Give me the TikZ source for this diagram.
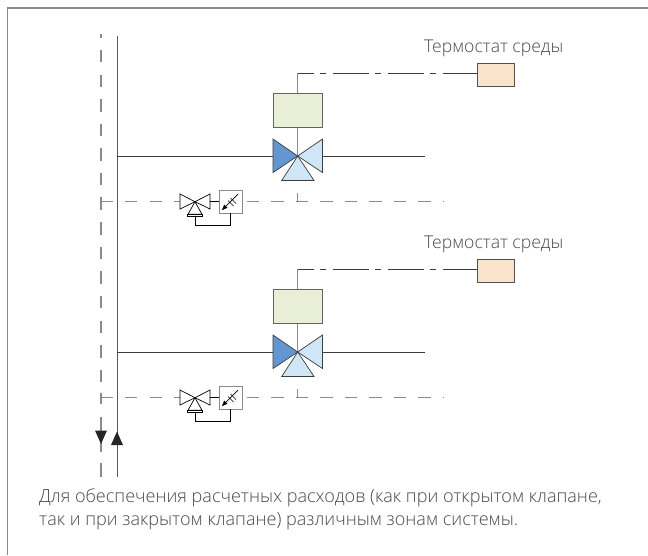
\documentclass[tikz,border=0pt]{standalone}
\usepackage{fontspec}
\setmainfont{Open Sans Light}[]
\definecolor{lineG}{HTML}{3C3C3C}
\definecolor{frameG}{HTML}{8A8A8A}
\definecolor{txtG}{HTML}{4A4A4A}
\definecolor{blueD}{HTML}{6496D2}
\definecolor{blueL}{HTML}{CFE6F6}
\definecolor{actG}{HTML}{E9EFD7}
\definecolor{thermo}{HTML}{F9E3CB}
\tikzset{
  pipe/.style={draw=lineG,line width=0.9pt},
  retpipe/.style={draw=frameG,line width=1.2pt},
  ctrl/.style={draw=lineG,line width=1pt},
  valvebody/.style={draw=lineG,line width=0.7pt,line join=miter},
  smallv/.style={draw=black,line width=0.7pt,fill=white},
  actbox/.style={draw=lineG!80,line width=1pt,fill=actG,minimum width=49pt,minimum height=34pt,inner sep=0pt},
  thermobox/.style={draw=lineG!90,line width=1pt,fill=thermo,minimum width=37pt,minimum height=23pt,inner sep=0pt},
  sensbox/.style={draw=frameG,line width=1.2pt,fill=white,minimum width=23pt,minimum height=23pt,inner sep=0pt},
  lbl/.style={text=txtG,font=\fontsize{17.6}{20}\selectfont,inner sep=0pt,anchor=base west},
  captxt/.style={text=txtG,font=\fontsize{18.05}{22}\selectfont,inner sep=0pt,anchor=base west},
  arr/.style={fill=black!85,draw=none}
}
\newcommand{\zone}[2]{%
 \begin{scope}[yshift=-#1pt]
  \node[lbl] (tl#2) at (424,-52) {Термостат среды};
  \node[actbox] (act#2) at (297.7,-110) {};
  \node[thermobox] (th#2) at (495.5,-74.5) {};
  \coordinate (corner#2) at (297.7,-73.3);
  \coordinate (vc#2) at (297.7,-156);
  \coordinate (vl#2) at (273,-156);
  \coordinate (vr#2) at (322.5,-156);
  \coordinate (pl#2) at (117,-156);
  \coordinate (pr#2) at (425,-156);
  \draw[retpipe] (act#2.south) -- (vc#2);
  \draw[retpipe] (act#2.north) -- (corner#2);
  \draw[ctrl,dash pattern=on 16pt off 6pt on 6pt off 6.8pt on 36.5pt off 6pt on 6pt off 6.5pt on 36.5pt off 6pt on 6pt off 6.5pt on 40pt off 0pt] (corner#2) -- (corner#2 -| th#2.west);
  \draw[pipe] (pl#2) -- (vl#2);
  \draw[pipe] (vr#2) -- (pr#2);
  \draw[valvebody,fill=blueD] (vc#2) -- (273,-139) -- (273,-172.5) -- cycle;
  \draw[valvebody,fill=blueL] (vc#2) -- (322.5,-139) -- (322.5,-172.5) -- cycle;
  \draw[valvebody,fill=blueL] (vc#2) -- (314,-180.5) -- (281.7,-180.5) -- cycle;
  % bypass
  \coordinate (tk#2) at (101,-201.7);
  \coordinate (tke#2) at (113,-201.7);
  \draw[retpipe] (tk#2) -- (tke#2);
  \draw[retpipe] (101,-196.5) -- (101,-208);
  \draw[retpipe,dash pattern=on 12.3pt off 12.2pt] (125,-201.7) -- (180,-201.7);
  \node[sensbox] (sb#2) at (230.7,-201.7) {};
  \coordinate (sv#2) at (195,-201.7);
  \draw[retpipe,dash pattern=on 12.3pt off 12.2pt] (sb#2.east)++(4,0) -- (443,-201.7);
  \draw[retpipe] (297.7,-193) -- (297.7,-201.7);
  \draw[smallv] (sv#2) -- (180,-194) -- (180,-209) -- cycle;
  \draw[smallv] (sv#2) -- (210,-194) -- (210,-209) -- cycle;
  \draw[smallv] (sv#2) -- (202,-214.3) -- (188,-214.3) -- cycle;
  \draw[smallv] (187.7,-214.3) rectangle (202.3,-216.8);
  \draw[smallv] (210,-201.7) -- (sb#2.west);
  \draw[smallv,fill=none] (195,-216.8) -- (195,-225.3) -- (230.3,-225.3) -- (230.3,-213.2);
  \draw[draw=black,line width=0.7pt] (222.5,-209.5) -- (238,-194);
  \draw[draw=black,line width=0.7pt] (230.5,-198) -- (236,-203.5)  (228,-200.5) -- (233.5,-206) ;
  \fill[black] (222,-210) -- (227.5,-207.8) -- (224.2,-204.5) -- cycle;
 \end{scope}}
\begin{document}
\begin{tikzpicture}[x=1pt,y=1pt]
\useasboundingbox (0,0) rectangle (648,-555);
\fill[white] (0,0) rectangle (648,-555);
\draw[frameG,line width=1.4pt] (7.5,-555) -- (7.5,-8) -- (648,-8);
\coordinate (mt) at (117,-36);
\coordinate (mb) at (117,-477);
\draw[pipe,draw=lineG!85,line width=1pt] (mt) -- (mb);
\coordinate (rt) at (101,-34);
\coordinate (rb) at (101,-477);
\draw[retpipe,dash pattern=on 12.3pt off 12.3pt,dash phase=8.6pt] (rt) -- (101,-385);
\draw[retpipe] (101,-417) -- (101,-452);
\draw[retpipe] (101,-463) -- (rb);
\zone{0}{a}
\zone{196}{b}
\fill[arr] (95,-430.5) -- (107,-430.5) -- (101,-444) -- cycle;
\fill[arr] (111,-445) -- (123,-445) -- (117,-431.5) -- cycle;
\node[captxt] (cap1) at (39,-502) {Для обеспечения расчетных расходов (как при открытом клапане,};
\node[captxt] (cap2) at (39,-525) {так и при закрытом клапане) различным зонам системы.};
\end{tikzpicture}
\end{document}
